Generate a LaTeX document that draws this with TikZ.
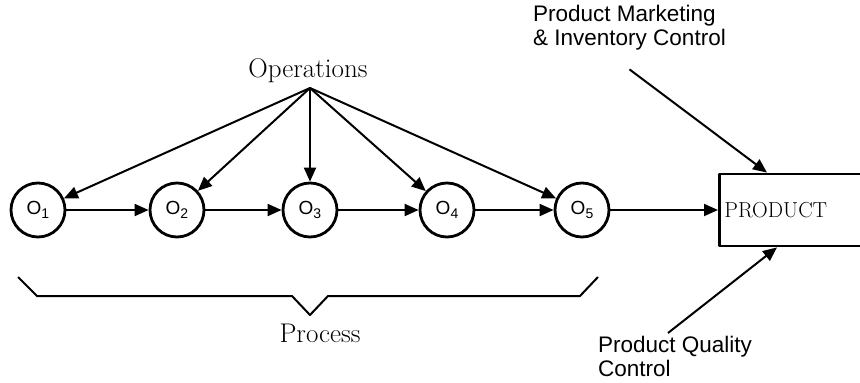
\documentclass[tikz,border=0pt]{standalone}
\usepackage{fontspec}
\setsansfont{Liberation Sans}
\usetikzlibrary{arrows.meta,positioning}

\newcommand{\opname}[1]{O\raisebox{-0.35ex}{\fontsize{14}{14}\selectfont #1}}

\begin{document}
\begin{tikzpicture}[x=1pt, y=-1pt, line join=round]
  \tikzset{
    opc/.style={circle, draw, line width=2.8pt, minimum size=54pt, inner sep=0pt, font=\sffamily\fontsize{19}{19}\selectfont},
    flow/.style={line width=2pt, -{Triangle[length=14pt, width=12pt]}},
    big/.style={font=\fontsize{27}{30}\selectfont, inner sep=0pt},
    side/.style={font=\sffamily\fontsize{22.5}{24}\selectfont, align=left, inner sep=0pt}
  }
  \useasboundingbox (0,0) rectangle (860,383);
  % ---- operations and the process chain ----
  \node[big, anchor=base] (ops) at (308,77) {Operations};
  \coordinate (fan) at (310,88);
  \foreach \i/\x in {1/38, 2/177, 3/310, 4/447, 5/582} {
    \node[opc] (o\i) at (\x,210) {\opname{\i}};
    \draw[flow] (fan) -- (o\i);
  }
  \foreach \i/\j in {1/2, 2/3, 3/4, 4/5}
    \draw[flow] (o\i) -- (o\j);
  % ---- brace under the chain ----
  \draw[line width=2pt] (18,277) -- (37,296) -- (292,296) -- (310,315) -- (328,296) -- (580,296) -- (598,277);
  \node[big, anchor=base] (proc) at (320,342) {Process};
  % ---- product and its controls ----
  \node[draw, line width=2.8pt, anchor=west, minimum height=72pt, text width=140pt, inner xsep=5pt, align=left,
        font=\fontsize{21.7}{24}\selectfont] (product) at (718,210) {PRODUCT};
  \draw[flow] (o5) -- (product);
  \node[side, anchor=north west] (mkt) at (533,5) {Product Marketing\\ \& Inventory Control};
  \node[side, anchor=north west] (qual) at (598,336) {Product Quality\\ Control};
  \draw[flow] ([yshift=-19pt]mkt.south) -- ([xshift=49pt]product.north west);
  \draw[flow] ([xshift=70pt, yshift=3pt]qual.north west) -- ([xshift=59pt]product.south west);
\end{tikzpicture}
\end{document}
